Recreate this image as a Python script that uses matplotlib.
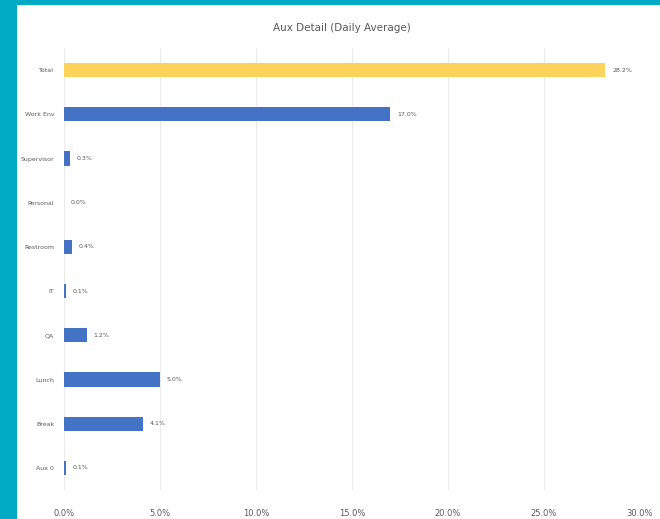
import matplotlib.pyplot as plt
from matplotlib.patches import Rectangle

categories = ['Total', 'Work Env', 'Supervisor', 'Personal', 'Restroom', 'IT', 'QA', 'Lunch', 'Break', 'Aux 0']
values = [28.2, 17.0, 0.3, 0.0, 0.4, 0.1, 1.2, 5.0, 4.1, 0.1]
bar_colors = ['#FDD35C'] + ['#4472C4'] * 9
x_ticks = [0, 5, 10, 15, 20, 25, 30]

W, H = 660, 519
fig = plt.figure(figsize=(W / 100, H / 100), dpi=100)
fig.patch.set_facecolor('#00A9C4')
# white chart card, kept behind the axes
fig.patches.append(Rectangle((17 / W, 0), 1 - 17 / W, 1 - 5 / H, transform=fig.transFigure,
                             facecolor='white', edgecolor='none', zorder=-5))

ax = fig.add_axes([64 / W, 1 - 490 / H, 576 / W, 442 / H])
ax.set_facecolor('none')

pos = list(range(len(categories)))
ax.barh(pos, values, height=0.32, color=bar_colors, zorder=3)
for p, v in zip(pos, values):
    ax.text(v + 0.35, p, f'{v:.1f}%', va='center', ha='left', fontsize=4.5, color='#595959')

ax.set_xlim(0, 30)
ax.set_ylim(len(categories) - 0.5, -0.5)
ax.set_yticks(pos)
ax.set_yticklabels(categories, fontsize=4.5, color='#595959')
ax.set_xticks(x_ticks)
ax.set_xticklabels([f'{t:.1f}%' for t in x_ticks], fontsize=6, color='#595959')
ax.tick_params(axis='both', length=0)
ax.tick_params(axis='y', pad=7)
ax.tick_params(axis='x', pad=14)
ax.grid(axis='x', color='#EBEBEB', linewidth=0.8, zorder=0)
for s in ax.spines.values():
    s.set_visible(False)

fig.text(0.5 + 12 / W, 1 - 28 / H, 'Aux Detail (Daily Average)', ha='center', va='center',
         fontsize=7.5, color='#595959')

fig.savefig('out.png', dpi=100, facecolor=fig.get_facecolor())
